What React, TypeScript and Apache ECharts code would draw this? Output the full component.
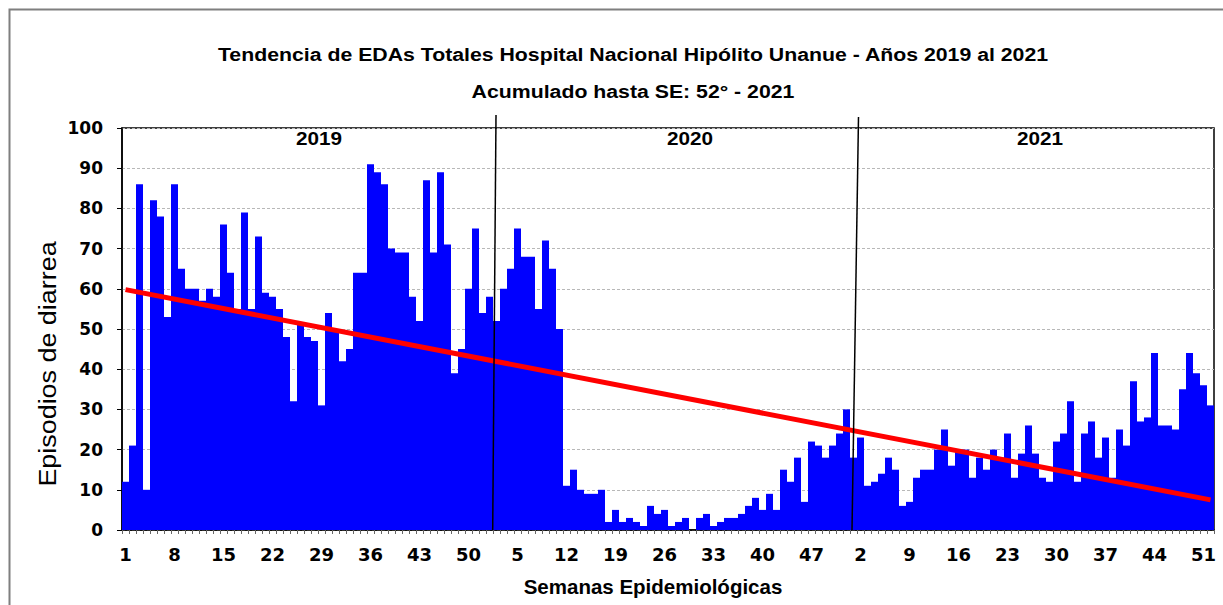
import React, { useEffect, useRef } from "react";
import * as echarts from "echarts";

// Weekly diarrhoea episodes (EDAs), epidemiological weeks 1..52 of each year
const cases2019 = [12, 21, 86, 10, 82, 78, 53, 86, 65, 60, 60, 57, 60, 58, 76, 64, 55, 79, 55, 73, 59, 58, 55, 48, 32, 51, 48, 47, 31, 54, 50, 42, 45, 64, 64, 91, 89, 86, 70, 69, 69, 58, 52, 87, 69, 89, 71, 39, 45, 60, 75, 54];
const cases2020 = [58, 52, 60, 65, 75, 68, 68, 55, 72, 65, 50, 11, 15, 10, 9, 9, 10, 2, 5, 2, 3, 2, 1, 6, 4, 5, 1, 2, 3, 0, 3, 4, 1, 2, 3, 3, 4, 6, 8, 5, 9, 5, 15, 12, 18, 7, 22, 21, 18, 21, 24, 30];
const cases2021 = [18, 23, 11, 12, 14, 18, 15, 6, 7, 13, 15, 15, 20, 25, 16, 20, 20, 13, 18, 15, 20, 18, 24, 13, 19, 26, 19, 13, 12, 22, 24, 32, 12, 24, 27, 18, 23, 13, 25, 21, 37, 27, 28, 44, 26, 26, 25, 35, 44, 39, 36, 31];

const yearLabels = ["2019", "2020", "2021"];
const weekLabels2019 = cases2019.map((_, i) => String(i + 1));
const weekLabels2020 = cases2020.map((_, i) => String(i + 1));
const weekLabels2021 = cases2021.map((_, i) => String(i + 1));

// Linear trend line end values
const trendStart = 59.8;
const trendEnd = 7.5;

const titleText = "Tendencia de EDAs Totales Hospital Nacional Hipólito Unanue - Años 2019 al 2021";
const subtitleText = "Acumulado hasta SE: 52° - 2021";
const xAxisName = "Semanas Epidemiológicas";
const yAxisName = "Episodios de diarrea";

const ARIAL = '"Liberation Sans", Arial, sans-serif';
const DEJAVU = '"DejaVu Sans", sans-serif';

function txt(text: string, x: number, y: number, size: number, bold: boolean, scaleX: number, rotation = 0) {
  return {
    type: "text",
    x,
    y,
    scaleX,
    rotation,
    silent: true,
    style: {
      text,
      fill: "#000",
      font: `${bold ? "bold " : ""}${size}px ${ARIAL}`,
      textAlign: "center",
      textVerticalAlign: "middle",
      align: "center",
      verticalAlign: "middle",
    },
  };
}

export default function App() {
  const ref = useRef<HTMLDivElement>(null);

  useEffect(() => {
    if (!ref.current) return;
    const chart = echarts.init(ref.current, undefined, { renderer: "svg" });

    const categories = [...weekLabels2019, ...weekLabels2020, ...weekLabels2021];
    const values = [...cases2019, ...cases2020, ...cases2021];
    const lastIndex = values.length - 1;

    chart.setOption({
      animation: false,
      backgroundColor: "#fff",
      grid: {
        left: 122,
        right: 9,
        top: 128,
        bottom: 75,
        show: true,
        borderColor: "#000",
        borderWidth: 1.5,
        containLabel: false,
        outerBoundsMode: "none",
      },
      xAxis: {
        type: "category",
        data: categories,
        boundaryGap: true,
        axisLine: { show: true, lineStyle: { color: "#000", width: 1.5 } },
        axisTick: { show: true, interval: 0, length: 4, lineStyle: { color: "#666", width: 1 } },
        axisLabel: {
          interval: 6,
          margin: 15,
          color: "#000",
          fontFamily: DEJAVU,
          fontWeight: "bold",
          fontSize: 18,
          hideOverlap: false,
        },
        splitLine: { show: false },
      },
      yAxis: {
        type: "value",
        min: 0,
        max: 100,
        interval: 10,
        axisLine: { show: true, lineStyle: { color: "#000", width: 1.5 } },
        axisTick: { show: true, length: 5, lineStyle: { color: "#000", width: 1 } },
        axisLabel: {
          margin: 19,
          color: "#000",
          fontFamily: DEJAVU,
          fontWeight: "bold",
          fontSize: 17,
        },
        splitLine: { show: true, lineStyle: { color: "#b8b8b8", type: [3, 2], width: 1 } },
      },
      series: [
        {
          type: "bar",
          data: values,
          barCategoryGap: "0%",
          itemStyle: { color: "#0000FF" },
          z: 2,
        },
        {
          type: "line",
          data: [
            [0, trendStart],
            [lastIndex, trendEnd],
          ],
          symbol: "none",
          lineStyle: { color: "#FF0000", width: 5 },
          z: 5,
        },
      ],
      graphic: [
        {
          type: "rect",
          silent: true,
          shape: { x: 9.5, y: 9.5, width: 1240, height: 620 },
          style: { fill: "none", stroke: "#7f7f7f", lineWidth: 2 },
          z: 100,
        },
        {
          type: "line",
          silent: true,
          shape: { x1: 496, y1: 115, x2: 492.7, y2: 530 },
          style: { stroke: "#000", lineWidth: 1.5 },
          z: 100,
        },
        {
          type: "line",
          silent: true,
          shape: { x1: 858.5, y1: 117, x2: 852, y2: 530 },
          style: { stroke: "#000", lineWidth: 1.5 },
          z: 100,
        },
        txt(titleText, 633, 55, 18.5, true, 1.15),
        txt(subtitleText, 633, 92, 18.5, true, 1.15),
        txt(yearLabels[0], 319, 138.5, 18.5, true, 1.12),
        txt(yearLabels[1], 690, 138.5, 18.5, true, 1.12),
        txt(yearLabels[2], 1040, 138.5, 18.5, true, 1.12),
        txt(xAxisName, 653, 586.5, 20.5, true, 1.0),
        txt(yAxisName, 48, 364, 23, false, 1.17, Math.PI / 2),
      ],
    });

    return () => chart.dispose();
  }, []);

  return (
    <div
      ref={ref}
      style={{ position: "fixed", left: 0, top: 0, width: 1223, height: 605, background: "#fff" }}
    />
  );
}
